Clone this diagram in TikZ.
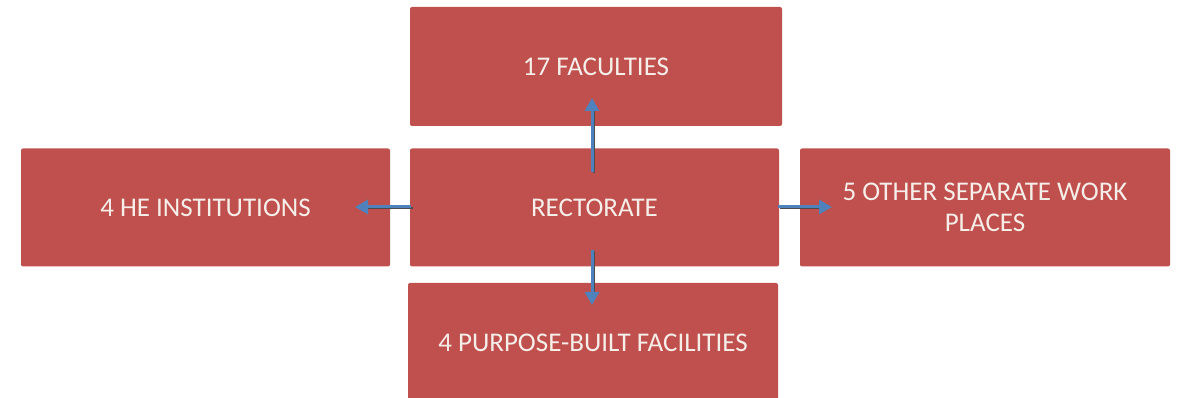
\documentclass[tikz,border=0pt]{standalone}
\usepackage{fontspec}
\setmainfont{Carlito}
\usetikzlibrary{arrows.meta}
\definecolor{boxred}{HTML}{C0504D}
\definecolor{arrowblue}{HTML}{4F81BD}
\definecolor{boxtext}{HTML}{F6EEE9}
\tikzset{
  unitbox/.style={fill=boxred, draw=none, rounded corners=2pt, inner sep=0pt,
    text=boxtext, align=center, font=\fontsize{27}{31}\selectfont},
  flowarrow/.style={draw=arrowblue, line width=3pt,
    -{Triangle[length=13pt,width=14pt]},
    preaction={draw=black!70, line width=2pt, -, transform canvas={shift={(1.5pt,-1.5pt)}}, shorten >=10pt}}
}
\begin{document}
\begin{tikzpicture}[x=1pt,y=-1pt]
\useasboundingbox (0,0) rectangle (1179,398);
\clip (0,0) rectangle (1179,398);
\node[unitbox, minimum width=372pt, minimum height=119pt] (fac) at (596,66.5) {17 FACULTIES};
\node[unitbox, minimum width=369pt, minimum height=118pt] (he) at (205.5,207.5) {4 HE INSTITUTIONS};
\node[unitbox, minimum width=369pt, minimum height=118pt] (rect) at (594.5,207.5) {RECTORATE};
\node[unitbox, minimum width=370pt, minimum height=118pt] (work) at (985,207.5) {5 OTHER SEPARATE WORK\\PLACES};
\node[unitbox, minimum width=370pt, minimum height=120pt] (pbf) at (593,343) {4 PURPOSE-BUILT FACILITIES};
\coordinate (upS) at (592,172);
\coordinate (upE) at (592,98);
\coordinate (lfS) at (411,207);
\coordinate (lfE) at (355,207);
\coordinate (rtS) at (778,207);
\coordinate (rtE) at (832,207);
\coordinate (dnS) at (592,250);
\coordinate (dnE) at (592,305);
\draw[flowarrow] (upS) -- (upE);
\draw[flowarrow] (lfS) -- (lfE);
\draw[flowarrow] (rtS) -- (rtE);
\draw[flowarrow] (dnS) -- (dnE);
\end{tikzpicture}
\end{document}
